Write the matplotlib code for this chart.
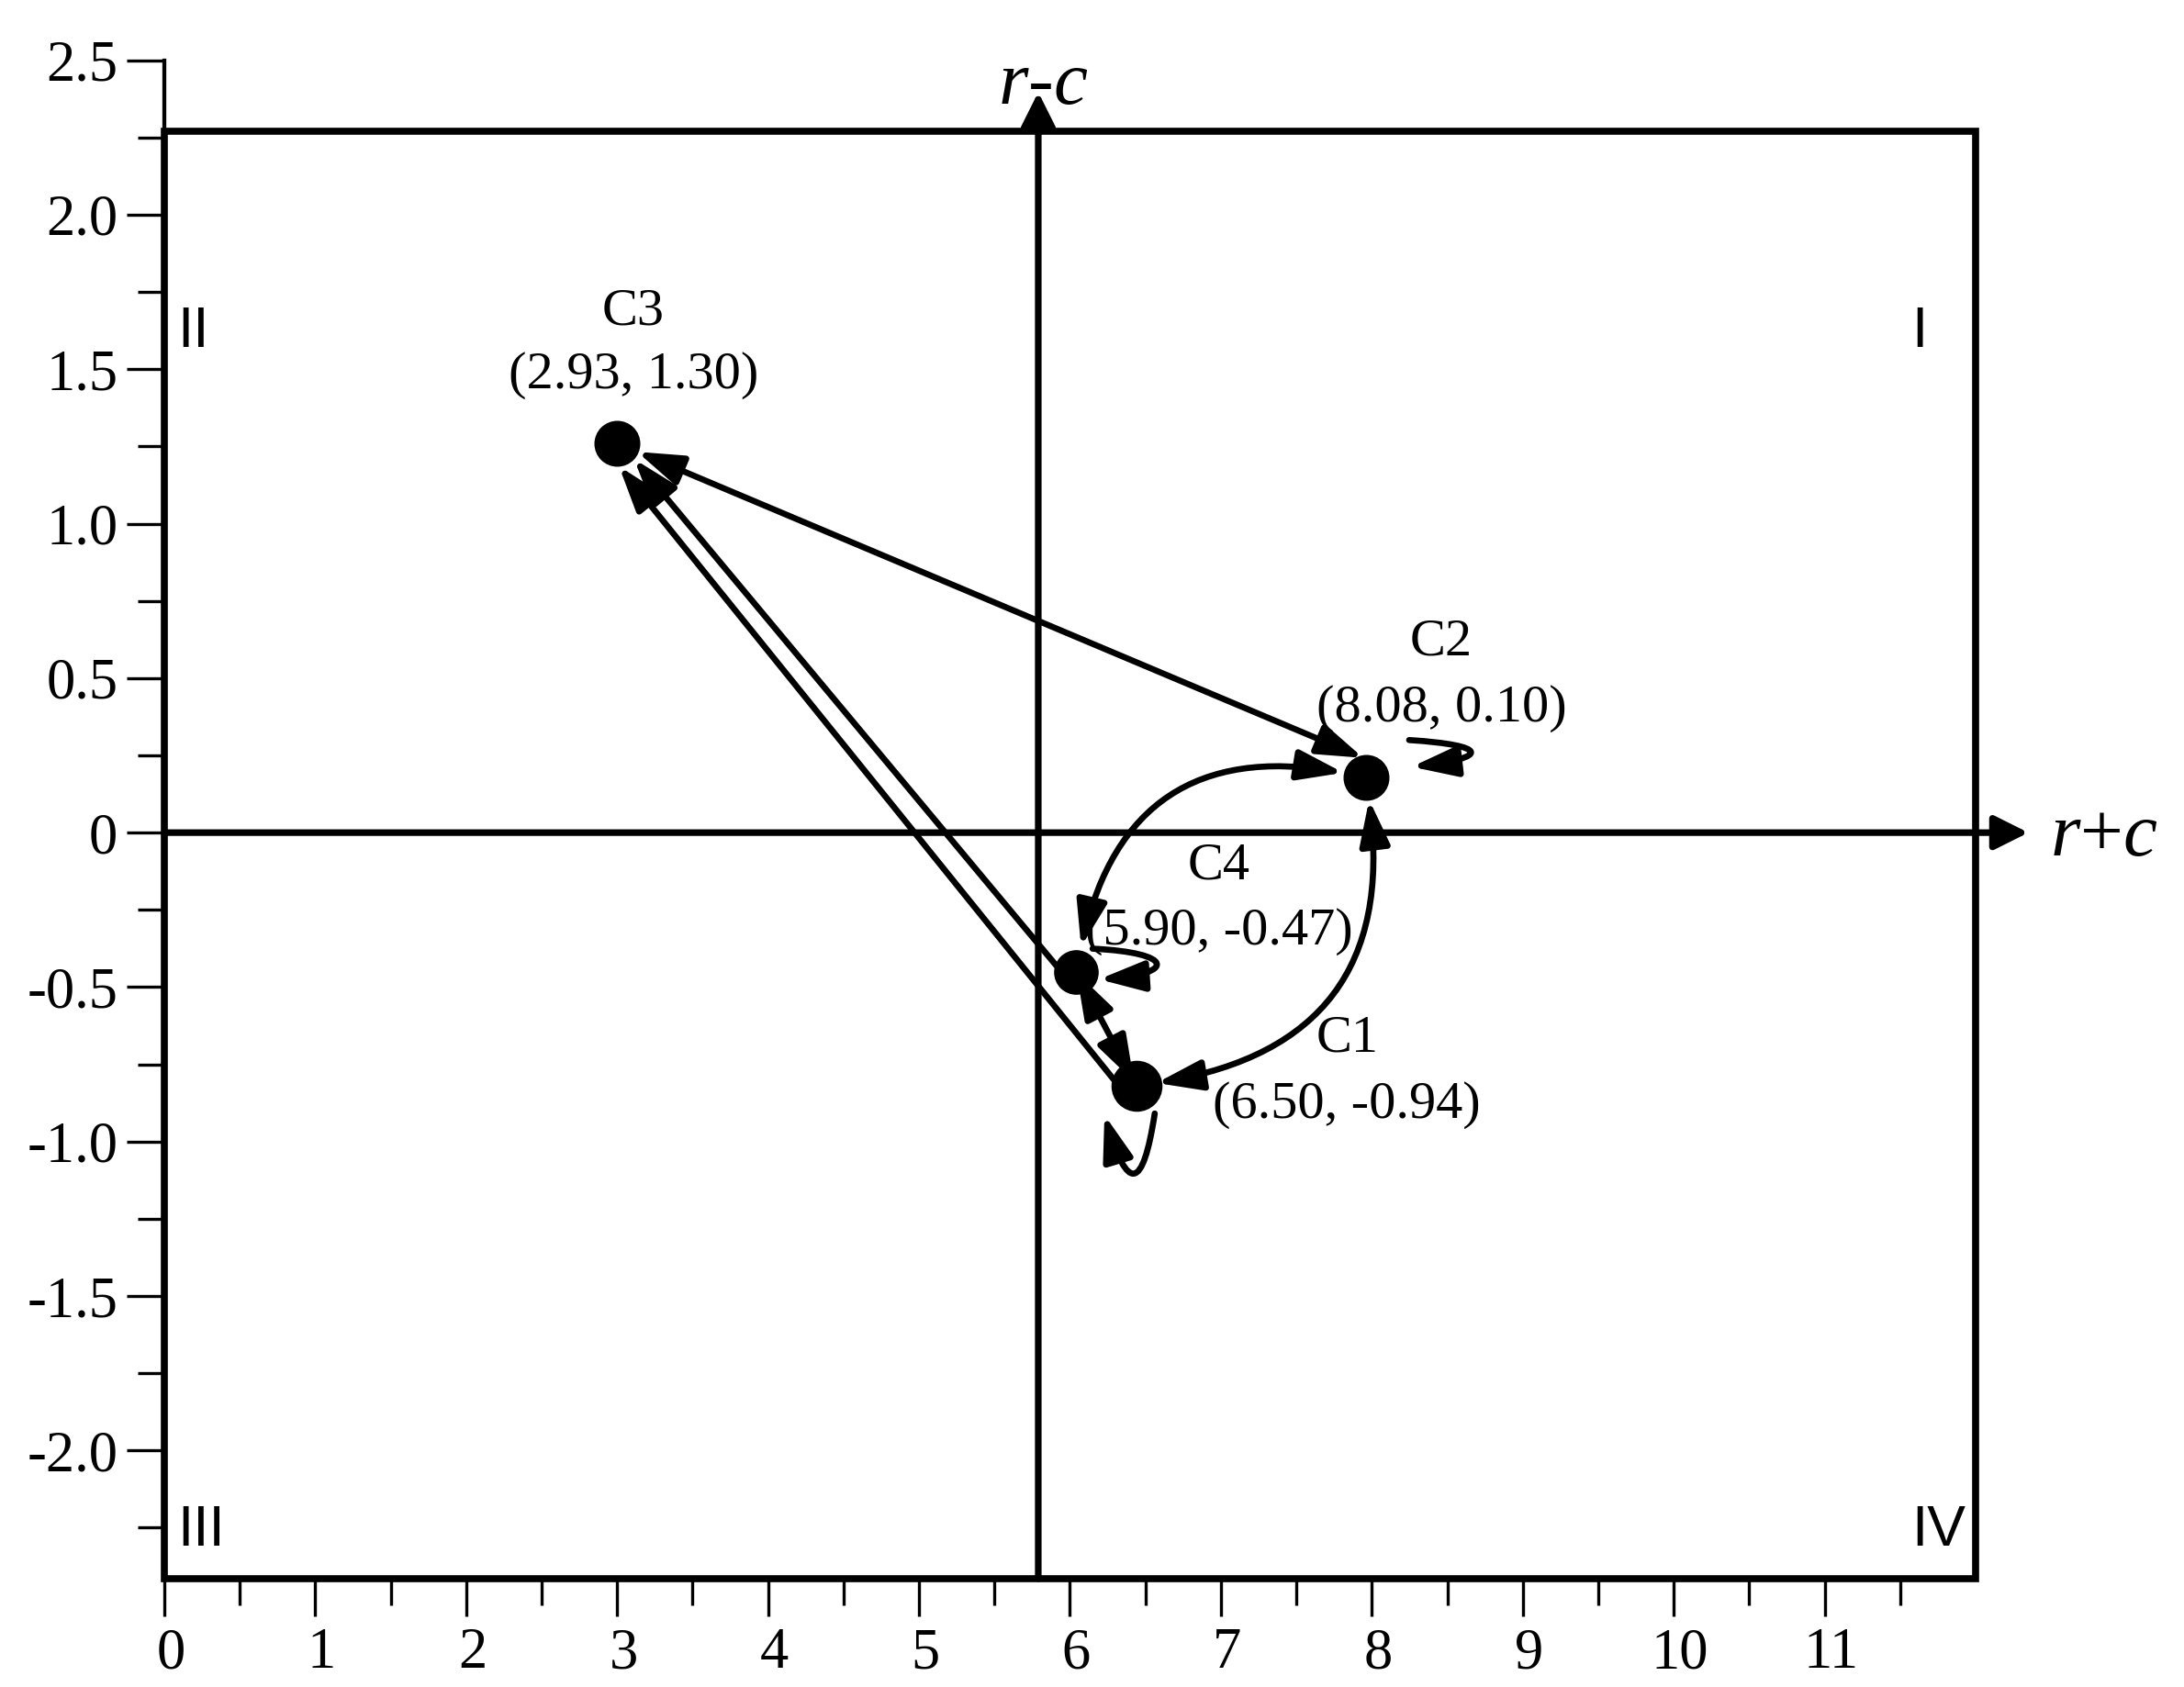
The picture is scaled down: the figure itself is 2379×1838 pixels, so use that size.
import numpy as np
import matplotlib
matplotlib.use("Agg")
import matplotlib.pyplot as plt
from matplotlib.patches import FancyArrowPatch, Rectangle
from matplotlib.path import Path
from matplotlib.transforms import Affine2D, ScaledTranslation, offset_copy

plt.rcParams['font.family'] = ['Liberation Serif', 'DejaVu Serif']
plt.rcParams['mathtext.fontset'] = 'custom'
plt.rcParams['mathtext.it'] = 'Liberation Serif:italic'
plt.rcParams['mathtext.rm'] = 'Liberation Serif'

# clusters and the (r+c, r-c) values printed next to them
names = ['C1', 'C2', 'C3', 'C4']
rc_sum = [6.50, 8.08, 2.93, 5.90]
rc_diff = [-0.94, 0.10, 1.30, -0.47]

# where the dots actually sit on the drawing
dot_x = [6.44, 7.96, 3.00, 6.04]
dot_y = [-0.82, 0.18, 1.26, -0.45]
center_x = 5.79          # the r-c axis crosses r+c here

xticks = list(range(12))
yticks = [-2.0, -1.5, -1.0, -0.5, 0.0, 0.5, 1.0, 1.5, 2.0, 2.5]
ytick_labels = ['-2.0', '-1.5', '-1.0', '-0.5', '0', '0.5', '1.0', '1.5', '2.0', '2.5']

# transitions between clusters
two_way = [('C3', 'C2'), ('C4', 'C1'), ('C1', 'C2'), ('C4', 'C2')]
one_way = [('C4', 'C3'), ('C1', 'C3')]
self_loops = ['C1', 'C2', 'C4']

# ---- layout / style ----
XMAX, YBOT, YTOP, BOXTOP = 12, -2.415, 2.5, 2.271
HEAD = '-|>,head_length=3.0,head_width=1.0'
HEAD2 = '<|-|>,head_length=3.0,head_width=1.0'
AXHEAD = '-|>,head_length=2.24,head_width=1.12'
LW = 4.8

fig = plt.figure(figsize=(23.79, 18.38), dpi=100)
ax = fig.add_axes([0.07524, 0.0642, 0.82934, 0.90005])
ax.set_xlim(0, XMAX)
ax.set_ylim(YBOT, YTOP)

ax.set_xticks(xticks)
ax.set_xticklabels([str(t) for t in xticks])
ax.set_xticks(np.arange(0.5, XMAX, 1.0), minor=True)
ax.set_yticks(yticks)
ax.set_yticklabels(ytick_labels)
ax.set_yticks(np.arange(-2.25, 2.3, 0.5), minor=True)
ax.tick_params(which='major', length=29.5, width=2.4, direction='out', labelsize=45)
ax.tick_params(which='minor', length=21, width=2.4, direction='out')
ax.tick_params(axis='y', pad=7)
ax.tick_params(axis='x', pad=9)
# the x labels sit a little right of their ticks in the original
shift = ScaledTranslation(5 / 72., 0, fig.dpi_scale_trans)
for lab in ax.get_xticklabels():
    lab.set_transform(lab.get_transform() + shift)

for s in ['top', 'right', 'bottom']:
    ax.spines[s].set_visible(False)
ax.spines['left'].set_linewidth(3.1)

ax.add_patch(Rectangle((0, YBOT), XMAX, BOXTOP - YBOT, fill=False, lw=5.5,
                       ec='black', clip_on=False, zorder=3, joinstyle='miter'))

# quadrant axes
axprops = dict(arrowstyle=AXHEAD, mutation_scale=10, lw=5.2, color='black',
               shrinkA=0, shrinkB=0)
ax.annotate('', xy=(12.35, 0), xytext=(0, 0), arrowprops=axprops,
            annotation_clip=False, zorder=3)
ax.annotate('', xy=(center_x, 2.397), xytext=(center_x, YBOT), arrowprops=axprops,
            annotation_clip=False, zorder=3)
ax.text(center_x + 0.03, 2.359, '$r$-$c$', ha='center', va='baseline', fontsize=60)
ax.text(12.49, -0.075, '$r$+$c$', ha='left', va='baseline', fontsize=60)

# quadrant numerals
quad_font = dict(family='Liberation Sans', fontsize=45, ha='left', va='baseline')
ax.text(11.576, 1.571, 'I', **quad_font)
ax.text(0.085, 1.571, 'II', **quad_font)
ax.text(0.085, -2.309, 'III', **quad_font)
ax.text(11.576, -2.309, 'IV', **quad_font)


def arrow(a, b, style, rad=0.0, shrinkA=17, shrinkB=17, offA=(0, 0), offB=(0, 0)):
    ia, ib = names.index(a), names.index(b)
    ta = offset_copy(ax.transData, fig=fig, x=offA[0], y=offA[1], units='points')
    tb = offset_copy(ax.transData, fig=fig, x=offB[0], y=offB[1], units='points')
    ax.annotate('', xy=(dot_x[ib], dot_y[ib]), xycoords=tb,
                xytext=(dot_x[ia], dot_y[ia]), textcoords=ta,
                arrowprops=dict(arrowstyle=style, connectionstyle='arc3,rad=%s' % rad,
                                shrinkA=shrinkA, shrinkB=shrinkB, lw=LW,
                                color='black', mutation_scale=10),
                annotation_clip=False, zorder=4)


# two-way links
arrow('C3', 'C2', HEAD2, shrinkA=17, shrinkB=0, offB=(-2, 15))
arrow('C4', 'C1', HEAD2, shrinkA=1, shrinkB=4)
arrow('C1', 'C2', HEAD2, rad=0.52, shrinkA=16, shrinkB=18)
arrow('C4', 'C2', HEAD2, rad=-0.52, shrinkA=20, shrinkB=18)
# one-way links into C3 (drawn side by side)
arrow('C4', 'C3', HEAD, shrinkA=0, shrinkB=16, offA=(-11.5, 0), offB=(3, 0))
arrow('C1', 'C3', HEAD, shrinkA=0, shrinkB=23, offA=(-13.7, 0), offB=(-13, 0))

# self loops, drawn in points around each dot
loop_shape = {
    'C2': [(34, 29), (97, 25), (97, 15), (36, 8)],
    'C4': [(13, 18), (78, 15), (78, -2), (18, -6)],
    'C1': [(14.4, -21.6), (5, -83), (-7, -83), (-25, -22.8)],
}
for n in self_loops:
    i = names.index(n)
    tr = (Affine2D().scale(1 / 72.) + fig.dpi_scale_trans +
          ScaledTranslation(dot_x[i], dot_y[i], ax.transData))
    p = Path(loop_shape[n], [Path.MOVETO, Path.CURVE4, Path.CURVE4, Path.CURVE4])
    ax.add_artist(FancyArrowPatch(path=p, arrowstyle=HEAD, mutation_scale=10, lw=LW,
                                  color='black', transform=tr, zorder=4, clip_on=False))

# dots
dot_ms = [39, 35, 35, 34]
for i in range(len(names)):
    ax.plot(dot_x[i], dot_y[i], 'o', color='black', ms=dot_ms[i], zorder=6, clip_on=False)

# cluster labels: (x, y of name, y of coordinates)
label_pos = {'C1': (7.835, -0.707, -0.924), 'C2': (8.461, 0.576, 0.362),
             'C3': (3.108, 1.646, 1.438), 'C4': (6.989, -0.149, -0.36)}
for i, n in enumerate(names):
    lx, ly1, ly2 = label_pos[n]
    ax.text(lx, ly1, n, ha='center', va='baseline', fontsize=42, zorder=7)
    ax.text(lx, ly2, '(%.2f, %.2f)' % (rc_sum[i], rc_diff[i]),
            ha='center', va='baseline', fontsize=42, zorder=7)

fig.savefig('out.png', dpi=100)
